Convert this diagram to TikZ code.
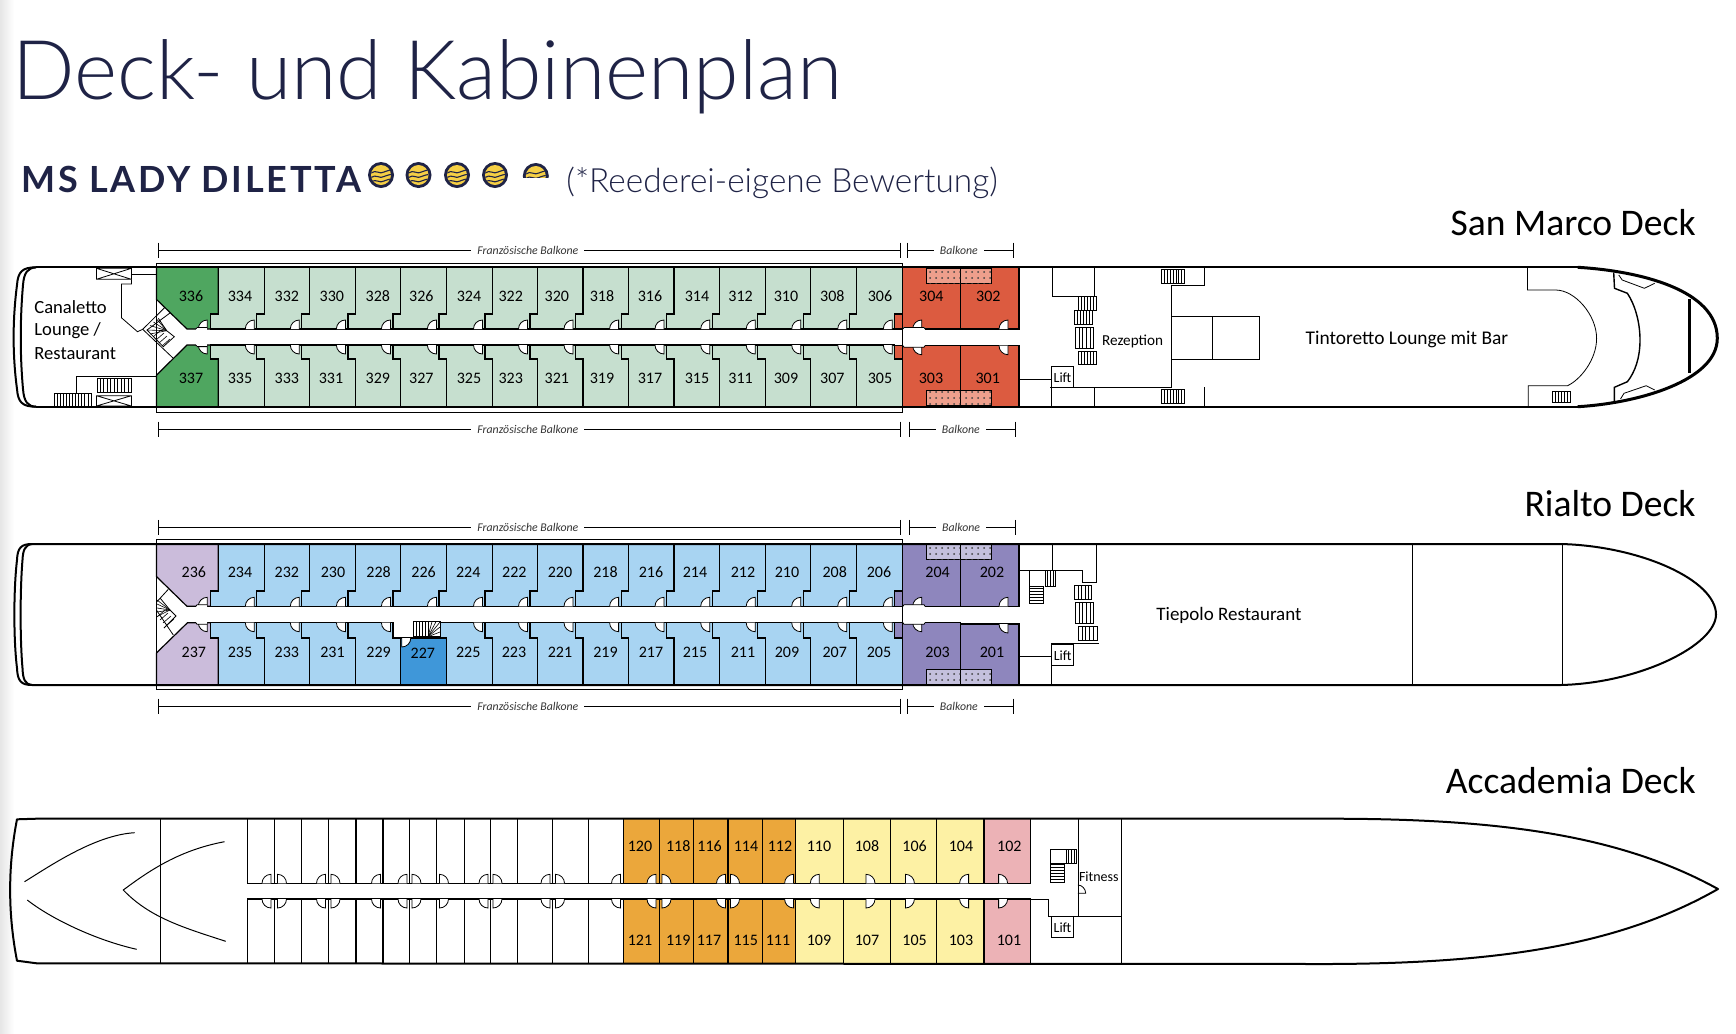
\documentclass[tikz,border=0pt]{standalone}
\usepackage{fontspec}
\usetikzlibrary{patterns}
\setmainfont{Carlito}
\newfontfamily\lightfont{Lato Light}
\newfontfamily\shipfont[LetterSpace=7.5]{Lato}
\definecolor{navy}{HTML}{1F2346}
\definecolor{lgreen}{HTML}{C6DFCF}
\definecolor{dgreen}{HTML}{4FA660}
\definecolor{redc}{HTML}{DC5B40}
\definecolor{redb}{HTML}{EE9F8C}
\definecolor{lblue}{HTML}{A8D4F2}
\definecolor{dblue}{HTML}{3F97D9}
\definecolor{purp}{HTML}{8E86BD}
\definecolor{purb}{HTML}{C4C0DD}
\definecolor{lilac}{HTML}{CBBCDB}
\definecolor{orangec}{HTML}{EBA73B}
\definecolor{yellowc}{HTML}{FDF1A4}
\definecolor{pinkc}{HTML}{ECB2B6}
\definecolor{logoy}{HTML}{F5CF45}
\tikzset{
  hull/.style={line width=1pt,line join=round},
  wall/.style={line width=.6pt,line join=miter},
  thinl/.style={line width=.4pt},
  numlab/.style={inner sep=0pt,font=\fontsize{8}{9}\selectfont},
  roomlab/.style={inner sep=0pt,anchor=base west,font=\fontsize{9.3}{10}\selectfont},
  smalllab/.style={inner sep=0pt,font=\fontsize{7}{8}\selectfont},
  decklab/.style={inner sep=0pt,anchor=base east,font=\fontsize{18.8}{20}\selectfont},
  ballab/.style={fill=white,inner xsep=3pt,inner ysep=0.5pt,font=\fontsize{5.9}{6}\selectfont\itshape,text=black!80},
  balc/.style={wall,fill=#1,postaction={pattern=dots,pattern color=black!75}}
}
% xL xR top jog corridor colour
\newcommand{\cabin}[6]{\draw[wall,fill=#6] (#1,#3) -- (#2,#3) -- (#2,#4) -- ({#2-7.5},#4) -- ({#2-7.5},#5) -- ({#1-7.5},#5) -- ({#1-7.5},#4) -- (#1,#4) -- cycle;}
% x y sx sy
\newcommand{\door}[4]{\fill[white] (#1,#2) -- (#1,{#2+#4*9}) .. controls ({#1+#3*5},{#2+#4*9}) and ({#1+#3*9},{#2+#4*5}) .. ({#1+#3*9},#2) -- cycle;
 \draw[thinl] ({#1+#3*9},#2) .. controls ({#1+#3*9},{#2+#4*5}) and ({#1+#3*5},{#2+#4*9}) .. (#1,{#2+#4*9}) -- (#1,#2);}
% x1 y1 x2 y2 : rungs vertical / horizontal
\newcommand{\stairV}[5]{\draw[thinl,fill=white] (#1,#2) rectangle (#3,#4);
 \foreach \i in {1,...,#5}{\draw[thinl] ({#1+(#3-#1)*\i/(#5+1)},#2) -- ({#1+(#3-#1)*\i/(#5+1)},#4);}}
\newcommand{\stairH}[5]{\draw[thinl,fill=white] (#1,#2) rectangle (#3,#4);
 \foreach \i in {1,...,#5}{\draw[thinl] (#1,{#2+(#4-#2)*\i/(#5+1)}) -- (#3,{#2+(#4-#2)*\i/(#5+1)});}}
\newcommand{\xbox}[4]{\draw[thinl] (#1,#2) rectangle (#3,#4) (#1,#2) -- (#3,#4) (#1,#4) -- (#3,#2);}
% x1 x2 y text
\newcommand{\dimline}[4]{\draw[thinl] (#1,{#3-7.5}) -- (#1,{#3+7.5}) (#2,{#3-7.5}) -- (#2,{#3+7.5});
 \draw[thinl] (#1,#3) -- node[ballab,xshift=-.7pt]{#4} (#2,#3);}
\newcommand{\logo}[2]{\fill[navy] (#1,#2) circle[radius=13];
 \fill[logoy] (#1,#2) circle[radius=10];
 \begin{scope}
 \clip (#1,#2) circle[radius=10];
 \foreach \d in {-3,1.5,6}{\draw[navy,line width=.55pt] ({#1-10},{#2+\d+1}) .. controls ({#1-5},{#2+\d-3}) and ({#1-1},{#2+\d+3}) .. ({#1+3},{#2+\d}) .. controls ({#1+6},{#2+\d-2}) and ({#1+8},{#2+\d-1}) .. ({#1+10},{#2+\d-2});}
 \end{scope}}
\begin{document}
\begin{tikzpicture}[x=0.5pt,y=-0.5pt]
\useasboundingbox (0,0) rectangle (1736,1034);
\shade[left color=black!10,right color=white,draw=none] (0,0) rectangle (14,1034);
% titles
\node[inner sep=0pt,anchor=base west,text=navy,font=\lightfont\fontsize{41.2}{44}\selectfont] (title) at (12,99) {Deck- und Kabinenplan};
\node[inner sep=0pt,anchor=base west,text=navy,font=\shipfont\bfseries\fontsize{18}{20}\selectfont] (ship) at (21,192) {MS LADY DILETTA};
\foreach \c in {381,418.5,457,495}{\logo{\c}{175}}
\begin{scope}\clip (520,160) rectangle (560,177.5);\logo{535.8}{176}\end{scope}
\node[inner sep=0pt,anchor=base west,text=navy,font=\lightfont\fontsize{16.7}{18}\selectfont] (rating) at (566,192) {(*Reederei-eigene Bewertung)};
\node[decklab] (d3) at (1696,235) {San Marco Deck};
\node[decklab] (d2) at (1696,516) {Rialto Deck};
\node[decklab] (d1) at (1696,793) {Accademia Deck};

%%%%%%%%%%%%%% SAN MARCO
\draw[wall,fill=dgreen] (156.4,267.3) -- (218.2,267.3) -- (218.2,314) -- (210.7,314) -- (210.7,329) -- (187,329) -- (156.4,299.3) -- cycle;
\draw[wall,fill=dgreen] (156.4,406.7) -- (218.2,406.7) -- (218.2,359) -- (210.7,359) -- (210.7,345) -- (187,345) -- (156.4,375.3) -- cycle;
\foreach \a/\b/\lx/\lab in {218.2/264.3/240/334,264.3/309.3/286.8/332,309.3/355.4/331.8/330,355.4/400.4/377.9/328,400.4/446.4/421.4/326,446.4/492.5/469/324,492.5/537.5/510.7/322,537.5/583/556.8/320,583/628.6/602/318,628.6/674/650/316,674/719.7/697/314,719.7/765.2/740.6/312,765.2/810.7/786/310,810.7/856.7/832.3/308,856.7/902.3/880/306}{
 \cabin{\a}{\b}{267.3}{314}{329}{lgreen}
 \door{\b-10}{329}{-1}{-1}
 \node[numlab] (c\lab) at (\lx,296) {\lab};}
\foreach \a/\b/\lx/\lab in {218.2/264.3/240/335,264.3/309.3/286.8/333,309.3/355.4/331/331,355.4/400.4/377.9/329,400.4/446.4/421.4/327,446.4/492.5/469/325,492.5/537.5/510.7/323,537.5/583/556.8/321,583/628.6/602/319,628.6/674/650/317,674/719.7/697/315,719.7/765.2/740.6/311,765.2/810.7/786/309,810.7/856.7/832.3/307,856.7/902.3/880/305}{
 \cabin{\a}{\b}{406.7}{359}{345}{lgreen}
 \door{\b-10}{345}{-1}{1}
 \node[numlab] (c\lab) at (\lx,378) {\lab};}
\door{207.3}{329}{-1}{-1}\door{207.3}{345}{-1}{1}
\node[numlab] (c336) at (191,296) {336};
\node[numlab] (c337) at (191,378) {337};
\fill[white] (196,327.4) rectangle (207,346.6);
\draw[thinl] (196,329) -- (197,327.4) -- (207,327.4) (196,345) -- (197,346.6) -- (207,346.6);
% red cabins
\draw[wall,fill=redc] (902.3,267.3) -- (960.7,267.3) -- (960.7,329) -- (894.8,329) -- (894.8,314) -- (902.3,314) -- cycle;
\draw[wall,fill=redc] (960.7,267.3) rectangle (1019,329);
\draw[wall,fill=redc] (902.3,406.7) -- (960.7,406.7) -- (960.7,345.7) -- (894.8,345.7) -- (894.8,359) -- (902.3,359) -- cycle;
\draw[wall,fill=redc] (960.7,406.7) rectangle (1019,345.7);
\draw[wall,balc=redb] (926.3,268) rectangle (960.7,283.3);
\draw[wall,balc=redb] (960.7,268) rectangle (991.7,283.3);
\draw[wall,balc=redb] (926.3,390.3) rectangle (960.7,406);
\draw[wall,balc=redb] (960.7,390.3) rectangle (991.7,406);
\door{921.7}{329}{-1}{-1}\door{921.7}{345.7}{-1}{1}
\door{1008}{329}{-1}{-1}\door{1008}{345.7}{-1}{1}
\fill[white] (903,327.4) rectangle (925,347.2);
\draw[thinl] (903,329) -- (904,327.4) -- (924,327.4) -- (925,329) (903,345.7) -- (904,347.2) -- (924,347.2) -- (925,345.7);
\node[numlab] (c304) at (931.3,296) {304};
\node[numlab] (c302) at (988.3,296) {302};
\node[numlab] (c303) at (931,378) {303};
\node[numlab] (c301) at (987.7,378) {301};
% stern interior
\xbox{96.4}{268.3}{131.4}{279.3}
\xbox{96.4}{395.7}{131.4}{406}
\draw[thinl] (131.4,274.3) -- (156.4,274.3);
\draw[thinl] (131.4,279.3) -- (131.4,284) -- (121.4,284) -- (121.4,317.7) -- (137.5,331.7) -- (142.7,329.3);
\draw[thinl] (165,307.3) -- (142.7,329.3) -- (173.3,358.3);
\draw[thinl] (170,313) -- (147,330) -- (163.3,346.7) -- (174.3,336.7) -- (166.7,330.7) -- (158.3,318.3);
\foreach \p in {(147,330),(150,325.5),(153.5,322),(157,319.5),(150,334)}{\draw[line width=.3pt] (166.7,330.7) -- \p;}
\foreach \i in {0,1,2,3}{\draw[line width=.3pt] ({153+3*\i},{337+3*\i}) -- ({161+3*\i},{330+3*\i});}
\stairV{97}{378.3}{131.4}{392.7}{9}
\draw[thinl] (156.4,376) -- (76,376) -- (76,393);
\stairV{54.3}{393.3}{91}{406}{11}
% midship
\draw[thinl] (1052.3,267.3) -- (1052.3,296) -- (1078,296) (1094.3,267.3) -- (1094.3,297);
\stairV{1078.3}{296.7}{1096.7}{310.7}{5}
\stairV{1074.3}{310.7}{1092}{324.7}{5}
\stairV{1075.3}{327.3}{1093.7}{348.3}{4}
\stairV{1078.3}{351.3}{1096.7}{364.7}{5}
\draw[thinl] (1019,379.7) -- (1051.3,379.7);
\draw[thinl] (1050,387.3) -- (1172,387.3) (1051.3,387.3) -- (1051.3,406.7) (1094.3,387.3) -- (1094.3,406.7);
\draw[thinl] (1171.7,285.3) -- (1171.7,362.7);
\draw[thinl] (1171.7,285.3) -- (1204,285.3) -- (1204,267.3);
\draw[thinl] (1171.7,316) rectangle (1259.8,359.3);
\draw[thinl] (1212.3,316) -- (1212.3,359.3);
\draw[thinl] (1171.7,359.3) -- (1171.7,387.3) (1204,387.3) -- (1204,406.7);
\stairV{1161.3}{269.3}{1184.7}{283.3}{7}
\stairV{1161.3}{389.3}{1184.7}{403.3}{7}
\draw[thinl,fill=white] (1051.3,366.3) rectangle (1073.7,387.3);
\node[smalllab] (lift3) at (1062.5,378) {Lift};
\node[roomlab,font=\fontsize{7.6}{9}\selectfont] (rez) at (1101.7,345.7) {Rezeption};
\node[roomlab] (can1) at (34,313.3) {Canaletto};
\node[roomlab] (can2) at (34,335) {Lounge /};
\node[roomlab] (can3) at (34,359) {Restaurant};
\node[roomlab,font=\fontsize{9.7}{10}\selectfont] (tint) at (1305.3,344) {Tintoretto Lounge mit Bar};
% bow interior
\draw[thinl] (1527.5,267.3) -- (1527.5,290) -- (1555.6,290) .. controls (1575,290) and (1596.6,315) .. (1596.6,338.3) .. controls (1596.6,360) and (1580,380) .. (1567.5,385.7) -- (1528.2,385.7) -- (1528.2,406.7);
\stairV{1552}{391.7}{1570}{402.3}{5}
\draw[line width=.7pt] (1613.7,272.7) -- (1614.5,288.3) -- (1627.4,293.3) .. controls (1635,305) and (1640,322) .. (1640,340) .. controls (1640,358) and (1635,372) .. (1627.4,381.7) -- (1614.4,387.3) -- (1614.4,401.7);
\draw[thinl] (1618.8,275) -- (1622.2,280) -- (1644.4,288.3) -- (1654.7,283.3);
\draw[thinl] (1620.5,399) -- (1624,393.3) -- (1646.2,385.7) -- (1654.7,390);
% hull
\draw[hull] (36,267.3) -- (1577.8,267.3);
\draw[hull] (36,406.7) -- (1577.8,406.7);
\draw[line width=1.5pt] (1577.8,267.3) .. controls (1640,271) and (1717.3,290) .. (1717.3,338.3) .. controls (1717.3,380) and (1640,403) .. (1577.8,406.7);
\draw[line width=1.2pt] (1689.6,299.3) -- (1689.6,373.3);
\draw[hull] (36,267.3) .. controls (22,267.3) and (18,272) .. (17,285) .. controls (12.5,320) and (12.5,355) .. (17,389) .. controls (18,402) and (22,406.7) .. (36,406.7);
\draw[hull] (36,267.3) .. controls (28,268) and (24,272) .. (23,285) .. controls (20,320) and (20,355) .. (23,389) .. controls (24,402) and (28,406.5) .. (36,406.7);
\draw[thinl] (156.4,263.3) rectangle (902.3,412.3);
\dimline{158.2}{900.3}{250}{Französische Balkone}
\dimline{907.3}{1013.3}{250}{Balkone}
\dimline{158.2}{900.3}{429}{Französische Balkone}
\dimline{909.3}{1015.3}{429}{Balkone}

%%%%%%%%%%%%%% RIALTO
\draw[wall,fill=lilac] (156.4,544) -- (218.2,544) -- (218.2,591) -- (210.7,591) -- (210.7,606.3) -- (187,606.3) -- (156.4,576.5) -- cycle;
\draw[wall,fill=lilac] (156.4,685) -- (218.2,685) -- (218.2,638) -- (210.7,638) -- (210.7,622.7) -- (187.5,622.7) -- (156.4,653) -- cycle;
\foreach \a/\b/\lx/\lab in {218.2/264.3/240/234,264.3/309.3/286.8/232,309.3/355.4/333/230,355.4/400.4/378.6/228,400.4/446.4/423.6/226,446.4/492.5/468.2/224,492.5/537.5/514.3/222,537.5/583/560/220,583/628.6/605.5/218,628.6/674/651/216,674/719.7/695/214,719.7/765.2/743/212,765.2/810.7/787/210,810.7/856.7/834.7/208,856.7/902.3/879/206}{
 \cabin{\a}{\b}{544}{591}{606.3}{lblue}
 \door{\b-10}{606.3}{-1}{-1}
 \node[numlab] (c\lab) at (\lx,572.3) {\lab};}
\foreach \a/\b/\lx/\lab in {218.2/264.3/240/235,264.3/309.3/286.8/233,309.3/355.4/332.5/231,355.4/400.4/378.6/229,446.4/492.5/468.2/225,492.5/537.5/514/223,537.5/583/560/221,583/628.6/605.5/219,628.6/674/651/217,674/719.7/695/215,719.7/765.2/743/211,765.2/810.7/787/209,810.7/856.7/834.7/207,856.7/902.3/879/205}{
 \cabin{\a}{\b}{685}{638}{622.7}{lblue}
 \door{\b-10}{622.7}{-1}{1}
 \node[numlab] (c\lab) at (\lx,652.3) {\lab};}
\draw[wall,fill=dblue] (400.4,638) rectangle (446.4,685);
\door{401.8}{638}{1}{1}
\node[numlab] (c227) at (422.9,653.3) {227};
\stairV{413.2}{621.7}{428}{636.7}{4}
\draw[thinl,fill=white] (428,621.7) rectangle (440,636.7);
\foreach \p in {(428,622),(432,621.7),(436,621.7),(440,622),(440,627),(440,632)}{\draw[line width=.3pt] (428,636.7) -- \p;}
\door{207.3}{606.3}{-1}{-1}\door{207.3}{622.7}{-1}{1}
\node[numlab] (c236) at (193.9,572.3) {236};
\node[numlab] (c237) at (193.9,652.3) {237};
\fill[white] (196,604.7) rectangle (207,624.3);
\draw[thinl] (196,606.3) -- (197,604.7) -- (207,604.7) (196,622.7) -- (197,624.3) -- (207,624.3);
\draw[wall,fill=purp] (902.3,544) -- (960.7,544) -- (960.7,606.3) -- (894.8,606.3) -- (894.8,591) -- (902.3,591) -- cycle;
\draw[wall,fill=purp] (960.7,544) rectangle (1019,606.3);
\draw[wall,fill=purp] (902.3,685) -- (960.7,685) -- (960.7,622.7) -- (894.8,622.7) -- (894.8,638) -- (902.3,638) -- cycle;
\draw[wall,fill=purp] (960.7,685) rectangle (1019,624);
\draw[wall,balc=purb] (926.7,544.5) rectangle (960.7,559.3);
\draw[wall,balc=purb] (960.7,544.5) rectangle (991.7,559.3);
\draw[wall,balc=purb] (926.7,669.3) rectangle (960.7,684.3);
\draw[wall,balc=purb] (960.7,669.3) rectangle (991.7,684.3);
\door{921.7}{606.3}{-1}{-1}\door{921.7}{622.7}{-1}{1}
\door{1008}{606.3}{-1}{-1}\door{1008}{624}{-1}{1}
\fill[white] (903,604.7) rectangle (925,624.3);
\draw[thinl] (903,606.3) -- (904,604.7) -- (924,604.7) -- (925,606.3) (903,622.7) -- (904,624.3) -- (924,624.3) -- (925,622.7);
\node[numlab] (c204) at (937.6,572.3) {204};
\node[numlab] (c202) at (992,572.3) {202};
\node[numlab] (c203) at (937.6,652.3) {203};
\node[numlab] (c201) at (992,652.3) {201};
% stairs at stern side
\draw[thinl] (168.3,589.3) -- (156.4,602.3) (156.4,610) -- (173.3,635);
\draw[thinl] (160,598) -- (170,610) -- (176,616) -- (164,628);
\foreach \p in {(157,600),(157,604),(157,608),(157,612),(158,616)}{\draw[line width=.3pt] (170,610) -- \p;}
\foreach \i in {0,1,2,3}{\draw[line width=.3pt] ({157+3*\i},{617+3*\i}) -- ({165+3*\i},{610+3*\i});}
% midship
\draw[thinl] (1019,570.7) -- (1082.3,570.7) -- (1082.3,582.3) -- (1096.7,582.3) -- (1096.7,544);
\draw[thinl] (1052.3,544) -- (1052.3,570.7);
\draw[thinl] (1029.3,570.7) -- (1029.3,586);
\stairV{1045}{570}{1055.7}{586}{3}
\stairH{1029.3}{586}{1043.7}{603.3}{5}
\stairV{1074.7}{585.3}{1091.7}{599.3}{4}
\stairV{1075.3}{602.3}{1093.7}{623.7}{4}
\stairV{1078.3}{626.3}{1097}{640.3}{4}
\draw[thinl] (1073.3,643.3) -- (1099,643.3);
\draw[thinl] (1019,656.3) -- (1051.7,656.3);
\draw[thinl] (1051.7,665) -- (1051.7,685);
\draw[wall,fill=white] (1051.7,644) rectangle (1073.7,665.3);
\node[smalllab] (lift2) at (1062.7,655.5) {Lift};
\node[roomlab,font=\fontsize{9.5}{10}\selectfont] (tie) at (1156,620) {Tiepolo Restaurant};
\draw[thinl] (1412.5,544) -- (1412.5,685) (1562,544) -- (1562,685);
% hull
\draw[hull] (32,544) -- (1561,544) .. controls (1640,546) and (1716,580) .. (1716,614.5) .. controls (1716,645) and (1640,683) .. (1561,685) -- (32,685);
\draw[hull] (32,544) .. controls (21,544) and (17.5,548) .. (17,560) .. controls (13.5,590) and (13.5,640) .. (17,668) .. controls (17.5,681) and (21,685) .. (32,685);
\draw[hull] (32,544) .. controls (25,545) and (23,550) .. (22.5,560) .. controls (20,590) and (20,640) .. (22.5,668) .. controls (23,680) and (25,684) .. (32,685);
\draw[wall] (156.4,544) -- (156.4,685);
\draw[thinl] (156.4,539.3) rectangle (902.3,689.3);
\dimline{158.2}{900.3}{527.3}{Französische Balkone}
\dimline{909.3}{1015.7}{527.3}{Balkone}
\dimline{158.2}{900.3}{706}{Französische Balkone}
\dimline{907.3}{1013.3}{706}{Balkone}

%%%%%%%%%%%%%% ACCADEMIA
\foreach \a/\b in {247.3/274.3,274.3/301.2,301.2/328.6,328.6/355.9,355.9/382.9,382.9/409.8,409.8/436.7,436.7/464.1,464.1/490.6,490.6/517.6,517.6/552.7,552.7/588.2,588.2/623.6}{
 \draw[wall] (\a,818.7) rectangle (\b,883.3);
 \draw[wall] (\a,899) rectangle (\b,963.3);}
\foreach \a/\b/\lx/\lab in {623.6/659.6/640/120,659.6/693.6/678.2/118,693.6/727.9/709.6/116,727.9/762.1/746/114,762.1/795.7/780/112}{
 \draw[wall,fill=orangec] (\a,818.7) rectangle (\b,883.3);
 \node[numlab] (c\lab) at (\lx,846) {\lab};}
\foreach \a/\b/\lx/\lab in {623.6/659.6/640/121,659.6/693.6/678.2/119,693.6/727.9/709/117,727.9/762.1/745.7/115,762.1/795.7/778/111}{
 \draw[wall,fill=orangec] (\a,899) rectangle (\b,963.3);
 \node[numlab] (c\lab) at (\lx,940) {\lab};}
\foreach \a/\b/\lx/\lab in {795.7/843.6/819/110,843.6/890.4/867/108,890.4/936.8/914.6/106,936.8/983.9/961/104}{
 \draw[wall,fill=yellowc] (\a,818.7) rectangle (\b,883.3);
 \node[numlab] (c\lab) at (\lx,846) {\lab};}
\foreach \a/\b/\lx/\lab in {795.7/843.6/819/109,843.6/890.4/867/107,890.4/936.8/914.6/105,936.8/983.9/961/103}{
 \draw[wall,fill=yellowc] (\a,899) rectangle (\b,963.3);
 \node[numlab] (c\lab) at (\lx,940) {\lab};}
\draw[wall,fill=pinkc] (983.9,818.7) rectangle (1030.4,883.3);
\draw[wall,fill=pinkc] (983.9,899) rectangle (1030.4,963.3);
\node[numlab] (c102) at (1009.3,846) {102};
\node[numlab] (c101) at (1009,940) {101};
\foreach \x/\s in {271/-1,277.5/1,325.5/-1,331/1,380.5/-1,407/-1,412/1,439.5/1,488/-1,493/1,550/-1,555.5/1,620.5/-1,656/-1,662/1,725.5/-1,730.5/1,793.6/-1,819.3/-1,866/1,905.4/1,968.6/-1,998.6/1}{
 \door{\x}{883.3}{\s}{-1}
 \door{\x}{899}{\s}{1}}
\draw[thinl] (1030.4,899) -- (1048.2,899) -- (1048.2,916.7) -- (1121.4,916.7);
\draw[thinl] (1077.9,818.7) -- (1077.9,916.7);
\draw[thinl] (1121.4,818.7) -- (1121.4,963.3);
\draw[thinl] (1050.7,849) rectangle (1076.8,863.3);
\stairV{1066}{849}{1076.8}{863.3}{3}
\stairH{1050.7}{864}{1064.3}{882.3}{5}
\draw[thinl] (1077.9,893.3) -- (1085.7,893.3) .. controls (1085.7,889) and (1082,885) .. (1077.9,885);
\draw[thinl,fill=white] (1051.8,916.7) rectangle (1073.2,937.3);
\node[smalllab] (lift1) at (1062.5,928) {Lift};
\node[smalllab,anchor=base west] (fit) at (1078.6,881.7) {Fitness};
% hull and stern
\draw[hull] (36.7,818.7) -- (1330,818.7) .. controls (1500,818.7) and (1620,835) .. (1718,889) .. controls (1620,945) and (1500,963.3) .. (1330,964) -- (36.7,963.3) -- (17,960.7) .. controls (12,935) and (10,910) .. (10.2,890) .. controls (10,870) and (12,845) .. (17,819.3) -- cycle;
\draw[thinl] (160.4,818.7) -- (160.4,963.3);
\draw[line width=.5pt] (24.5,881.7) .. controls (50,866) and (95,835) .. (134.7,832.7);
\draw[line width=.5pt] (27.3,900) .. controls (50,918) and (95,940) .. (136.7,949.3);
\draw[line width=.5pt] (224.5,841.7) .. controls (180,850) and (150,870) .. (123.3,890) .. controls (150,918) and (185,928) .. (225.7,941.3);
\end{tikzpicture}
\end{document}
